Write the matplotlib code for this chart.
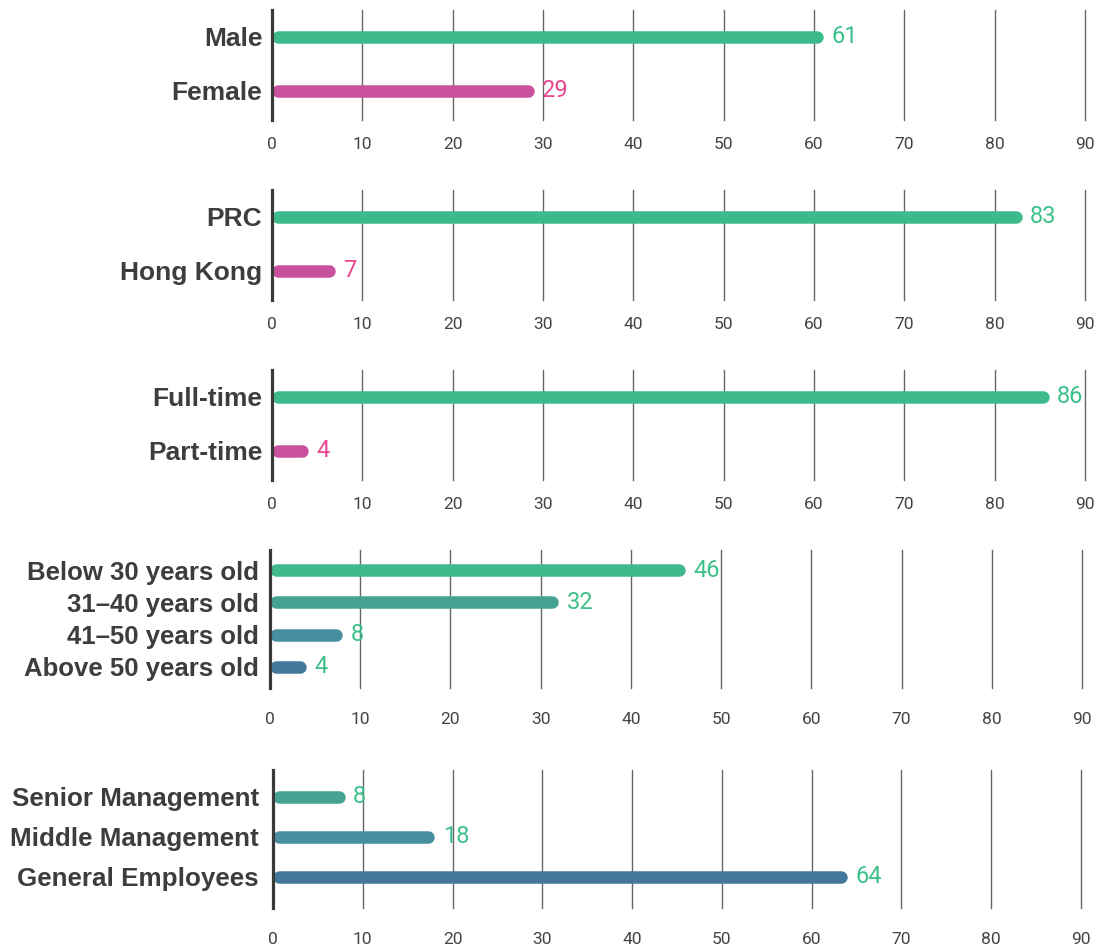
import matplotlib
matplotlib.use("Agg")
import matplotlib.pyplot as plt

W, H, DPI = 1098, 948, 100

# ---- data ----
gender_labels = ["Male", "Female"]
gender_values = [61, 29]
origin_labels = ["PRC", "Hong Kong"]
origin_values = [83, 7]
emp_labels = ["Full-time", "Part-time"]
emp_values = [86, 4]
age_labels = ["Below 30 years old", "31\u201340 years old", "41\u201350 years old", "Above 50 years old"]
age_values = [46, 32, 8, 4]
rank_labels = ["Senior Management", "Middle Management", "General Employees"]
rank_values = [8, 18, 64]
xticks = [0, 10, 20, 30, 40, 50, 60, 70, 80, 90]

GREEN = "#3dba8c"
PINK_BAR = "#c9509c"
PINK_TXT = "#e8468f"
GREEN_TXT = "#3cc08a"
AGE_COLORS = ["#40b98d", "#46a394", "#478e9e", "#44779c"]
RANK_COLORS = ["#46a394", "#478e9e", "#44779c"]

NARROW = ["Liberation Sans Narrow", "Roboto", "DejaVu Sans"]
LABELF = ["Liberation Sans", "DejaVu Sans"]

fig = plt.figure(figsize=(W / DPI, H / DPI), dpi=DPI)

# panel geometry in pixels: (x0, x90, top, bottom), ylim, label size, label pad, xtick pad
panels = [
    (gender_labels, gender_values, [GREEN, PINK_BAR], [GREEN_TXT, PINK_TXT], (272, 1085, 10, 120), (1.54, -0.5), 19, 7, 12),
    (origin_labels, origin_values, [GREEN, PINK_BAR], [GREEN_TXT, PINK_TXT], (272, 1085, 190, 300), (1.54, -0.5), 19, 7, 12),
    (emp_labels, emp_values, [GREEN, PINK_BAR], [GREEN_TXT, PINK_TXT], (272, 1085, 370, 480), (1.54, -0.5), 19, 7, 12),
    (age_labels, age_values, AGE_COLORS, [GREEN_TXT] * 4, (270, 1082, 550, 688), (3.65, -0.62), 18.5, 8, 17),
    (rank_labels, rank_values, RANK_COLORS, [GREEN_TXT] * 3, (273, 1081, 770, 908), (2.78, -0.67), 18.7, 10, 17),
]

BAR_LW = 9  # points
for labels, values, colors, tcolors, (x0, x90, top, bot), ylim, lfs, lpad, xpad in panels:
    ax = fig.add_axes([x0 / W, 1 - bot / H, (x90 - x0) / W, (bot - top) / H])
    ax.set_xlim(0, 90)
    ax.set_ylim(*ylim)
    px_per_unit = (x90 - x0) / 90.0
    r = (BAR_LW * DPI / 72.0 / 2.0) / px_per_unit
    ys = list(range(len(labels)))
    for y, v, c, tc in zip(ys, values, colors, tcolors):
        ax.plot([r, max(v - r, r)], [y, y], color=c, lw=BAR_LW,
                solid_capstyle="round", zorder=3)
        ax.annotate(str(v), (v, y), xytext=(6, 0), textcoords="offset points",
                    va="center", ha="left", fontsize=17, color=tc,
                    family=NARROW, zorder=4)
    ax.set_yticks(ys)
    ax.set_yticklabels(labels, fontsize=lfs, color="#3d3d3d",
                       family=LABELF, fontweight="bold")
    ax.set_xticks(xticks)
    ax.set_xticklabels([str(t) for t in xticks], fontsize=12.5,
                       color="#444444", family=NARROW)
    ax.tick_params(axis="both", length=0)
    ax.tick_params(axis="x", pad=xpad)
    ax.tick_params(axis="y", pad=lpad)
    for s in ["top", "right", "bottom"]:
        ax.spines[s].set_visible(False)
    ax.spines["left"].set_color("#3a3a3a")
    ax.spines["left"].set_linewidth(2.3)
    ax.spines["left"].set_zorder(5)
    ax.grid(axis="x", color="#666666", lw=1.0)
    for gl in ax.get_xgridlines():
        gl.set_clip_on(False)
    ax.set_axisbelow(True)
    ax.patch.set_alpha(0)

fig.savefig("out.png", dpi=DPI)
